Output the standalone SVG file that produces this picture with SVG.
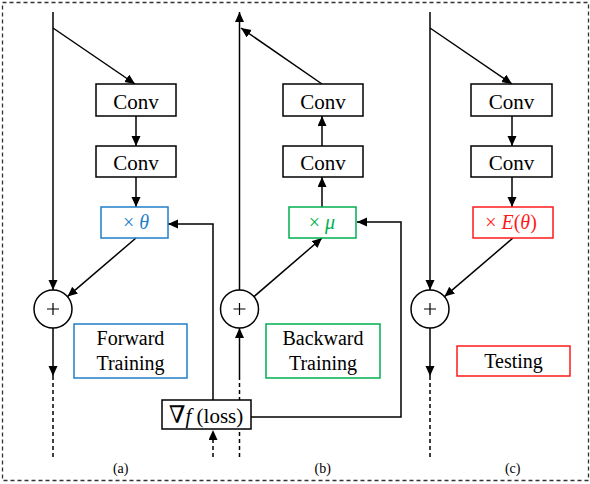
<svg xmlns="http://www.w3.org/2000/svg" width="590" height="484" viewBox="0 0 590 484">
<defs>
<marker id="ah" markerUnits="userSpaceOnUse" markerWidth="11" markerHeight="10" refX="10" refY="4.5" orient="auto"><path d="M0,0 L10,4.5 L0,9 z" fill="#000"/></marker>
<style>
.ln{stroke:#000;stroke-width:1.5;fill:none}
.ar{stroke:#000;stroke-width:1.5;fill:none;marker-end:url(#ah)}
.dash{stroke:#000;stroke-width:1.5;fill:none;stroke-dasharray:4,3}
.box{fill:#fff;stroke:#000;stroke-width:1.5}
.t{text-anchor:middle;fill:#000}
.blue{stroke:#1f7fc8}
.green{stroke:#00b050}
.red{stroke:#ff1a1a}
</style>
</defs>
<rect x="2.5" y="2.5" width="586" height="478" fill="#fff" stroke="#333" stroke-width="1.3" stroke-dasharray="4,3"/>

<g id="connectors">
<line class="ar" x1="53" y1="12" x2="53" y2="290"/>
<line class="ar" x1="53" y1="28" x2="135" y2="84"/>
<line class="ar" x1="136" y1="116" x2="136" y2="146"/>
<line class="ar" x1="136" y1="177" x2="136" y2="207"/>
<line class="ar" x1="136" y1="238" x2="67.5" y2="296.6"/>
<line class="ar" x1="53" y1="328" x2="53" y2="376"/>
<line class="dash" x1="53" y1="376" x2="53" y2="457"/>
<line class="ar" x1="239.5" y1="290" x2="239.5" y2="12"/>
<line class="ar" x1="322" y1="84" x2="241" y2="28"/>
<line class="ar" x1="322" y1="146" x2="322" y2="116"/>
<line class="ar" x1="322" y1="207" x2="322" y2="177"/>
<line class="ar" x1="254" y1="296.6" x2="322" y2="238"/>
<line class="dash" x1="239.5" y1="457" x2="239.5" y2="380"/>
<line class="ar" x1="239.5" y1="380" x2="239.5" y2="328"/>
<polyline class="ar" points="213,400 213,224 168,224"/>
<polyline class="ar" points="251,417 401,417 401,222 357,222"/>
<line class="dash" x1="213" y1="457" x2="213" y2="430"/>
<line x1="213" y1="436" x2="213" y2="430" stroke="none" marker-end="url(#ah)"/>
<line class="ar" x1="430" y1="12" x2="430" y2="290"/>
<line class="ar" x1="430" y1="28" x2="512" y2="84"/>
<line class="ar" x1="512" y1="116" x2="512" y2="146"/>
<line class="ar" x1="512" y1="177" x2="512" y2="207"/>
<line class="ar" x1="513" y1="238" x2="444.5" y2="296.6"/>
<line class="ar" x1="430" y1="328" x2="430" y2="376"/>
<line class="dash" x1="430" y1="376" x2="430" y2="457"/>
</g>

<g font-family="Liberation Serif, Times New Roman, DejaVu Serif, serif">
<g id="a-conv1"><rect class="box" x="96" y="84" width="80" height="32"/><text class="t" x="136" y="109" font-size="21">Conv</text></g>
<g id="a-conv2"><rect class="box" x="96" y="146" width="80" height="31"/><text class="t" x="136" y="170" font-size="21">Conv</text></g>
<g id="a-theta"><rect class="box blue" x="101" y="207" width="67" height="31"/><text class="t" x="136" y="229" font-size="20" fill="#1f7fc8"><tspan fill="#1f7fc8">× </tspan><tspan font-style="italic" fill="#1f7fc8">θ</tspan></text></g>
<g id="a-sum"><circle cx="53" cy="309" r="19" fill="#fff" stroke="#000" stroke-width="1.5"/><path d="M47,309 H59 M53,303 V315" stroke="#000" stroke-width="1.2"/></g>
<g id="a-label"><rect class="box blue" x="74" y="324" width="113" height="54"/><text class="t" x="130.5" y="345" font-size="20" fill="#1f7fc8">Forward</text><text class="t" x="130.5" y="370" font-size="20" fill="#1f7fc8">Training</text></g>
<text class="t" x="120.7" y="473" font-size="14">(a)</text>

<g id="b-conv1"><rect class="box" x="283" y="84" width="80" height="32"/><text class="t" x="323" y="109" font-size="21">Conv</text></g>
<g id="b-conv2"><rect class="box" x="283" y="146" width="80" height="31"/><text class="t" x="323" y="170" font-size="21">Conv</text></g>
<g id="b-mu"><rect class="box green" x="289" y="207" width="67" height="31"/><text class="t" x="322" y="229" font-size="20"><tspan fill="#00b050">× </tspan><tspan font-style="italic" fill="#00b050">μ</tspan></text></g>
<g id="b-sum"><circle cx="239.5" cy="309" r="19" fill="#fff" stroke="#000" stroke-width="1.5"/><path d="M233.5,309 H245.5 M239.5,303 V315" stroke="#000" stroke-width="1.2"/></g>
<g id="b-label"><rect class="box green" x="266" y="324" width="114" height="54"/><text class="t" x="323" y="345" font-size="20" fill="#00b050">Backward</text><text class="t" x="323" y="370" font-size="20" fill="#00b050">Training</text></g>
<g id="b-grad"><rect class="box" x="162" y="400" width="89" height="29"/><text class="t" x="206" y="423" font-size="21"><tspan font-size="24">∇</tspan><tspan font-style="italic">f</tspan> (loss)</text></g>
<text class="t" x="322.7" y="473" font-size="14">(b)</text>

<g id="c-conv1"><rect class="box" x="471" y="84" width="81" height="32"/><text class="t" x="511.5" y="109" font-size="21">Conv</text></g>
<g id="c-conv2"><rect class="box" x="471" y="146" width="81" height="31"/><text class="t" x="511.5" y="170" font-size="21">Conv</text></g>
<g id="c-e"><rect class="box red" x="473" y="207" width="80" height="31"/><text class="t" x="511" y="229" font-size="20"><tspan fill="#ff1a1a">× </tspan><tspan font-style="italic" fill="#ff1a1a">E</tspan><tspan fill="#ff1a1a">(</tspan><tspan font-style="italic" fill="#ff1a1a">θ</tspan><tspan fill="#ff1a1a">)</tspan></text></g>
<g id="c-sum"><circle cx="430" cy="309" r="19" fill="#fff" stroke="#000" stroke-width="1.5"/><path d="M424,309 H436 M430,303 V315" stroke="#000" stroke-width="1.2"/></g>
<g id="c-label"><rect class="box red" x="457" y="346" width="113" height="30"/><text class="t" x="513.5" y="368" font-size="20" fill="#ff1a1a">Testing</text></g>
<text class="t" x="512.7" y="473" font-size="14">(c)</text>
</g>
</svg>
